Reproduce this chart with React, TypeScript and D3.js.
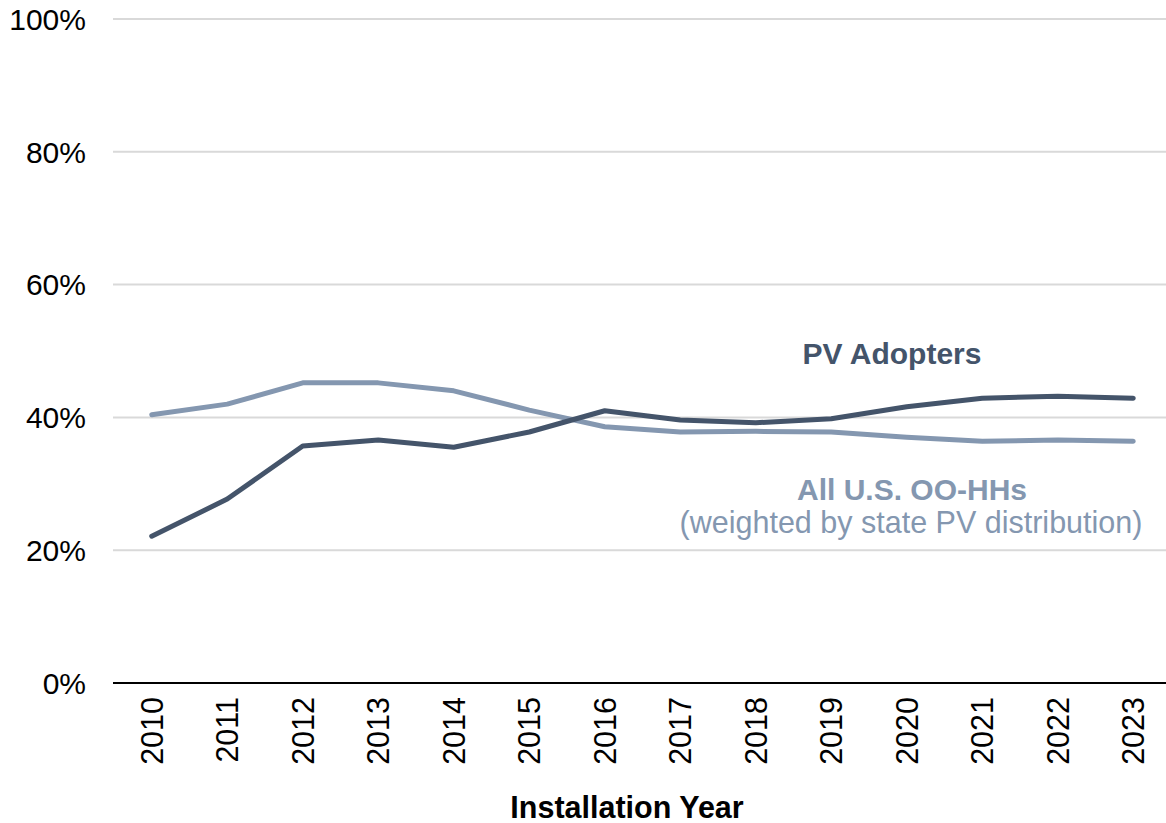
import React from "react";
import * as d3 from "d3";

const years = ["2010","2011","2012","2013","2014","2015","2016","2017","2018","2019","2020","2021","2022","2023"];
const pvAdopters = [22.1, 27.7, 35.7, 36.6, 35.5, 37.8, 41.0, 39.6, 39.2, 39.8, 41.6, 42.9, 43.2, 42.9];
const allHouseholds = [40.4, 42.0, 45.2, 45.2, 44.0, 41.1, 38.6, 37.8, 37.9, 37.8, 37.0, 36.4, 36.6, 36.4];
const yTicks = [0, 20, 40, 60, 80, 100];

const W = 1166, H = 823;
const FONT = "'Liberation Sans', Arial, sans-serif";
const DARK = "#44546A";
const LIGHT = "#8497B0";

export default function App() {
  const x = d3.scaleBand<string>().domain(years).range([114, 1171]).padding(0);
  const y = d3.scaleLinear().domain([0, 100]).range([683, 19]);
  const cx = (d: string) => (x(d) as number) + x.bandwidth() / 2;
  const line = d3.line<number>()
    .x((_, i) => cx(years[i]))
    .y((v) => y(v))
    .curve(d3.curveLinear);

  return (
    <svg width={W} height={H} style={{ position: "absolute", left: 0, top: 0, background: "#fff" }} fontFamily={FONT}>
      {yTicks.map((t) => (
        <g key={t}>
          {t > 0 && <line x1={113} x2={1166} y1={y(t)} y2={y(t)} stroke="#d9d9d9" strokeWidth={2} />}
          <text x={86} y={y(t)} dy="0.36em" textAnchor="end" fontSize={30} fill="#000">{t}%</text>
        </g>
      ))}
      <line x1={113} x2={1166} y1={y(0)} y2={y(0)} stroke="#000" strokeWidth={2} />
      {years.map((yr) => (
        <text key={yr} transform={`translate(${cx(yr)},${697}) rotate(-90)`} textAnchor="end" dy="0.36em" fontSize={30.5} fill="#000">{yr}</text>
      ))}
      <path d={line(allHouseholds) || ""} fill="none" stroke={LIGHT} strokeWidth={5} strokeLinecap="round" strokeLinejoin="round" />
      <path d={line(pvAdopters) || ""} fill="none" stroke={DARK} strokeWidth={5} strokeLinecap="round" strokeLinejoin="round" />
      <text x={892} y={364} textAnchor="middle" fontSize={30} fontWeight="bold" fill={DARK}>PV Adopters</text>
      <text x={912} y={500} textAnchor="middle" fontSize={30} fontWeight="bold" fill={LIGHT}>All U.S. OO-HHs</text>
      <text x={911} y={533} textAnchor="middle" fontSize={30.5} fill={LIGHT}>(weighted by state PV distribution)</text>
      <text x={627} y={818} textAnchor="middle" fontSize={30.5} fontWeight="bold" fill="#000">Installation Year</text>
    </svg>
  );
}
